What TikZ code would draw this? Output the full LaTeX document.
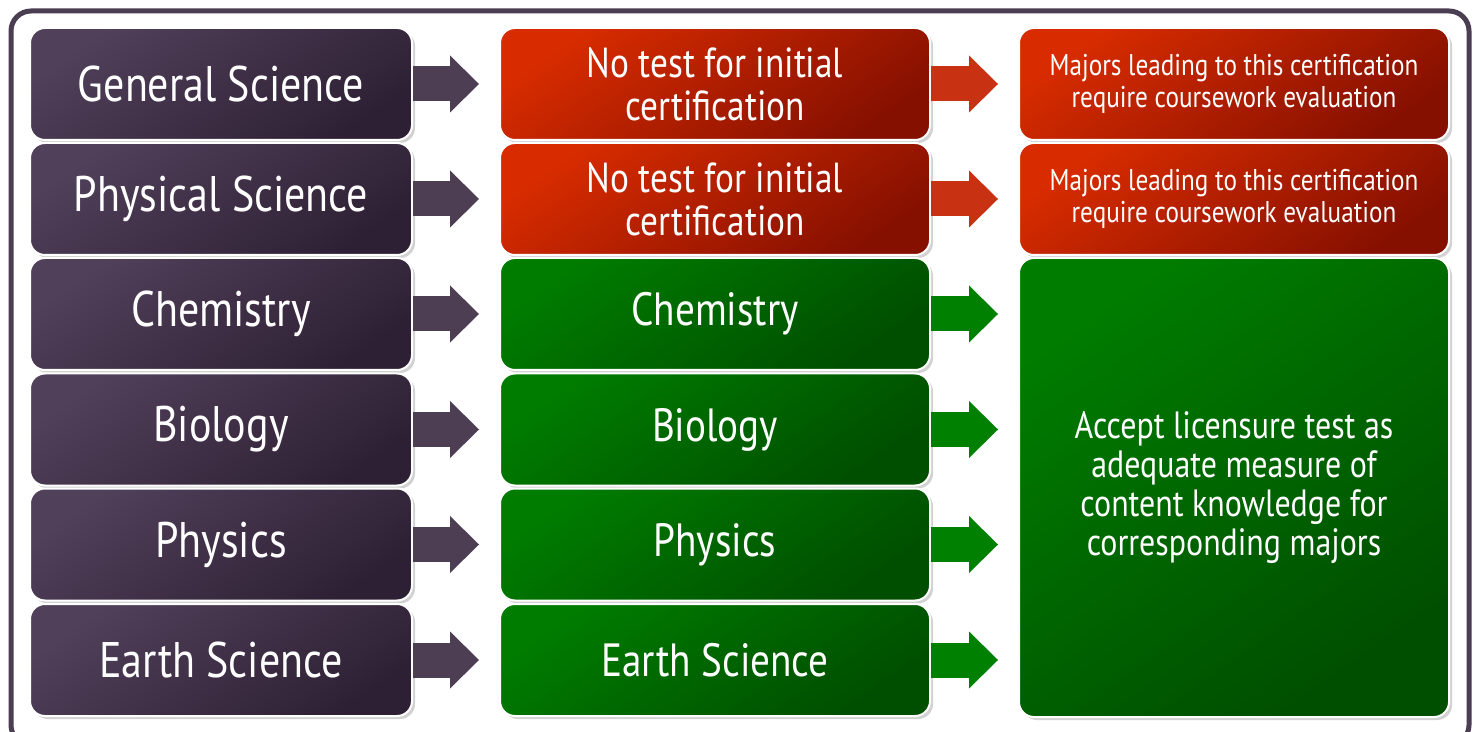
\documentclass[tikz,border=0pt]{standalone}
\usepackage{fontspec}
\setmainfont{PT Sans}[FakeStretch=0.84]
\usetikzlibrary{shadows}
\usetikzlibrary{arrows.meta}

\definecolor{purpleA}{HTML}{50405A}
\definecolor{purpleB}{HTML}{2E2034}
\definecolor{redA}{HTML}{D82C00}
\definecolor{redB}{HTML}{861000}
\definecolor{greenA}{HTML}{007C00}
\definecolor{greenB}{HTML}{004E00}
\definecolor{framecol}{HTML}{4B3D52}
\definecolor{arrowpurple}{HTML}{4D3E54}
\definecolor{arrowred}{HTML}{C83212}
\definecolor{arrowgreen}{HTML}{008000}

\tikzset{
    box/.style={draw=white, line width=1pt, rounded corners=7.5pt, text=white,
        align=center, inner sep=0pt, shading angle=35,
        drop shadow={shadow xshift=1.5pt, shadow yshift=-1.5pt, opacity=0.35}},
    majorbox/.style={box, top color=purpleA, bottom color=purpleB, shading angle=35,
        minimum width=191pt, minimum height=56pt, font=\fontsize{25}{25}\selectfont},
    notestbox/.style={box, top color=redA, bottom color=redB, shading angle=35,
        minimum width=215pt, minimum height=56pt, font=\fontsize{21}{21.5}\selectfont},
    testbox/.style={box, top color=greenA, bottom color=greenB, shading angle=35,
        minimum width=215pt, minimum height=56pt, font=\fontsize{23.3}{23.3}\selectfont},
    courseworkbox/.style={notestbox, font=\fontsize{15}{16}\selectfont},
    acceptbox/.style={testbox, minimum height=229.5pt, font=\fontsize{19}{19.5}\selectfont},
    link/.style={line width=17.5pt, -{Triangle[length=14.5pt, width=28.5pt, line width=0pt]}},
}

\begin{document}
\begin{tikzpicture}[x=0.5pt, y=-0.5pt]
    % page and outer frame
    \useasboundingbox (0,0) rectangle (1477,732);
    \fill[white] (0,0) rectangle (1477,732);
    \draw[framecol, line width=2.5pt, rounded corners=10pt] (11,11) rectangle (1469,745);

    % majors
    \node[majorbox] (gen)   at (221,84)    {General Science};
    \node[majorbox] (phys)  at (221,199)   {Physical Science};
    \node[majorbox] (chem)  at (221,314)   {Chemistry};
    \node[majorbox] (bio)   at (221,429.5) {Biology};
    \node[majorbox] (phy)   at (221,544.5) {Physics};
    \node[majorbox] (earth) at (221,660)   {Earth Science};

    % tests
    \node[notestbox] (gentest)   at (715,84)    {No test for initial\\certification};
    \node[notestbox] (physftest) at (715,199)   {No test for initial\\certification};
    \node[testbox]   (chemtest)  at (715,314)   {Chemistry};
    \node[testbox]   (biotest)   at (715,429.5) {Biology};
    \node[testbox]   (phytest)   at (715,544.5) {Physics};
    \node[testbox]   (earthtest) at (715,660)   {Earth Science};

    % outcomes
    \node[courseworkbox] (genres)  at (1234,84)  {Majors leading to this certification\\require coursework evaluation};
    \node[courseworkbox] (physres) at (1234,199) {Majors leading to this certification\\require coursework evaluation};
    \node[acceptbox] (accept) at (1234,487.5) {Accept licensure test as\\adequate measure of\\content knowledge for\\corresponding majors};

    % arrows majors -> tests
    \draw[link, arrowpurple, shorten >=10pt] (gen.east) -- (gentest.west);
    \draw[link, arrowpurple, shorten >=10pt] (phys.east) -- (physftest.west);
    \draw[link, arrowpurple, shorten >=10pt] (chem.east) -- (chemtest.west);
    \draw[link, arrowpurple, shorten >=10pt] (bio.east) -- (biotest.west);
    \draw[link, arrowpurple, shorten >=10pt] (phy.east) -- (phytest.west);
    \draw[link, arrowpurple, shorten >=10pt] (earth.east) -- (earthtest.west);

    % arrows tests -> outcomes
    \draw[link, arrowred, shorten >=10pt] (gentest.east) -- (genres.west);
    \draw[link, arrowred, shorten >=10pt] (physftest.east) -- (physres.west);
    \draw[link, arrowgreen, shorten >=10pt] (chemtest.east) -- (chemtest.east -| accept.west);
    \draw[link, arrowgreen, shorten >=10pt] (biotest.east) -- (biotest.east -| accept.west);
    \draw[link, arrowgreen, shorten >=10pt] (phytest.east) -- (phytest.east -| accept.west);
    \draw[link, arrowgreen, shorten >=10pt] (earthtest.east) -- (earthtest.east -| accept.west);
\end{tikzpicture}
\end{document}
